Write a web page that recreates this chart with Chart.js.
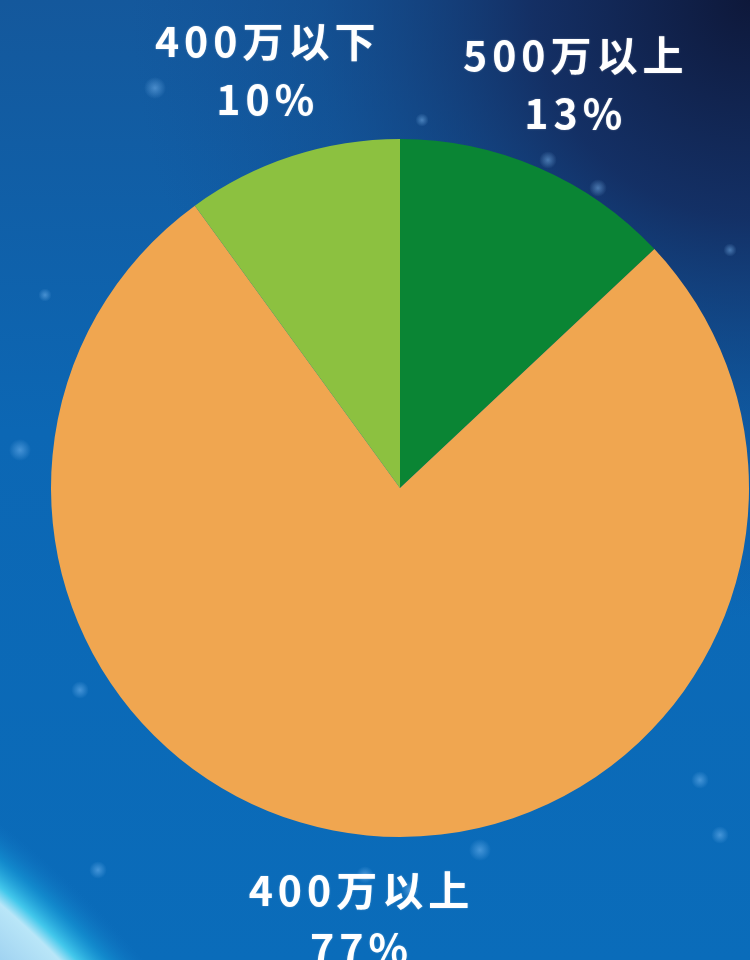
<!DOCTYPE html>
<html>
<head>
<meta charset="utf-8">
<script src="https://cdn.jsdelivr.net/npm/chart.js@4/dist/chart.umd.min.js"></script>
<style>
  html, body { margin: 0; padding: 0; background: #0b6ab8; }
  #wrap { width: 750px; height: 960px; position: relative; }
</style>
</head>
<body>
<div id="wrap"><canvas id="pie"></canvas></div>
<script>
// Income bands and their shares (%)
const categories = ['500万以上', '400万以上', '400万以下'];
const shares = [13, 77, 10];
const sliceColors = ['#0a8534', '#f0a650', '#8cc140'];

// Space backdrop: blue field, dark corner, faint stars and a glowing horizon
const backdrop = {
  id: 'backdrop',
  beforeDraw(chart) {
    const ctx = chart.ctx;
    const w = chart.width, h = chart.height;
    ctx.save();
    const base = ctx.createLinearGradient(0, 0, 0, h);
    base.addColorStop(0, '#14589c');
    base.addColorStop(0.45, '#0c67b4');
    base.addColorStop(1, '#0a6cba');
    ctx.fillStyle = base;
    ctx.fillRect(0, 0, w, h);

    const dark = ctx.createRadialGradient(w, 0, 0, w, 0, 620);
    dark.addColorStop(0, 'rgba(14,24,58,1)');
    dark.addColorStop(0.35, 'rgba(20,40,90,0.85)');
    dark.addColorStop(0.7, 'rgba(20,60,120,0.3)');
    dark.addColorStop(1, 'rgba(20,70,140,0)');
    ctx.fillStyle = dark;
    ctx.fillRect(0, 0, w, h);

    const stars = [[155, 88, 5], [105, 330, 4], [20, 450, 5], [80, 690, 4], [548, 160, 4], [598, 188, 4],
                   [422, 120, 3], [480, 850, 5], [365, 875, 4], [410, 890, 4], [98, 870, 4],
                   [730, 250, 3], [700, 780, 4], [720, 835, 4], [45, 295, 3], [150, 660, 3]];
    stars.forEach(([x, y, r]) => {
      const g = ctx.createRadialGradient(x, y, 0, x, y, r * 2.2);
      g.addColorStop(0, 'rgba(140,200,255,0.45)');
      g.addColorStop(1, 'rgba(140,200,255,0)');
      ctx.fillStyle = g;
      ctx.beginPath();
      ctx.arc(x, y, r * 2.2, 0, Math.PI * 2);
      ctx.fill();
    });

    // horizon glow in the lower-left corner
    ctx.beginPath();
    ctx.rect(0, 0, w, h);
    ctx.clip();
    const cx = -600, cy = 1600, R = 922;
    const glow = ctx.createRadialGradient(cx, cy, R - 80, cx, cy, R + 60);
    glow.addColorStop(0, 'rgba(140,195,235,1)');
    glow.addColorStop(0.55, 'rgba(185,230,248,1)');
    glow.addColorStop(0.64, 'rgba(70,205,238,0.95)');
    glow.addColorStop(0.8, 'rgba(25,165,222,0.5)');
    glow.addColorStop(1, 'rgba(20,120,200,0)');
    ctx.fillStyle = glow;
    ctx.beginPath();
    ctx.arc(cx, cy, R + 60, 0, Math.PI * 2);
    ctx.fill();
    ctx.restore();
  }
};

// Two-line labels (name + share) set outside each slice along its mid-angle
const outerLabels = {
  id: 'outerLabels',
  afterDatasetsDraw(chart) {
    const ctx = chart.ctx;
    const meta = chart.getDatasetMeta(0);
    const total = shares.reduce((a, b) => a + b, 0);
    const spacing = 5;
    ctx.save();
    ctx.fillStyle = '#ffffff';
    ctx.textAlign = 'center';
    ctx.textBaseline = 'middle';
    ctx.font = 'bold 41px "Noto Sans CJK SC", "Noto Sans", sans-serif';
    ctx.letterSpacing = spacing + 'px';
    ctx.shadowColor = 'rgba(255,255,255,0.35)';
    ctx.shadowBlur = 2;
    meta.data.forEach((arc, i) => {
      const p = arc.getProps(['x', 'y', 'startAngle', 'endAngle', 'outerRadius'], true);
      const mid = (p.startAngle + p.endAngle) / 2;
      const r = p.outerRadius * 1.25;
      const x = p.x + Math.cos(mid) * r + spacing / 2;
      const y = p.y + Math.sin(mid) * r - 3;
      const pct = Math.round(shares[i] / total * 100) + '%';
      ctx.fillText(categories[i], x, y - 29);
      ctx.fillText(pct, x, y + 29);
    });
    ctx.restore();
  }
};

new Chart(document.getElementById('pie'), {
  type: 'pie',
  data: {
    labels: categories,
    datasets: [{
      data: shares,
      backgroundColor: sliceColors,
      borderWidth: 0
    }]
  },
  options: {
    responsive: true,
    maintainAspectRatio: false,
    animation: false,
    radius: 349,
    layout: { padding: { left: 50, right: 0, top: 16, bottom: 0 } },
    plugins: {
      legend: { display: false },
      tooltip: { enabled: false }
    }
  },
  plugins: [backdrop, outerLabels]
});
</script>
</body>
</html>
